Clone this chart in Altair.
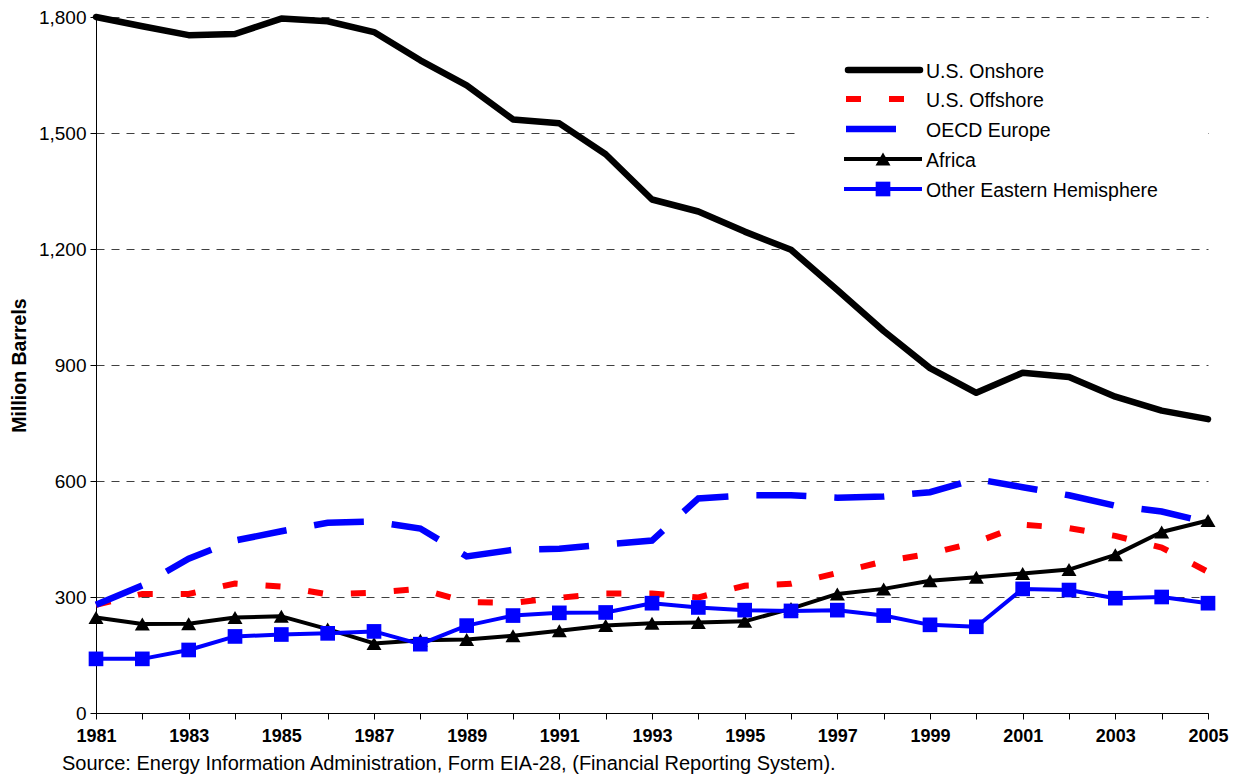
import altair as alt
import pandas as pd

years = list(range(1981, 2006))
series_names = ["U.S. Onshore", "U.S. Offshore", "OECD Europe", "Africa", "Other Eastern Hemisphere"]

us_onshore = [1800, 1776, 1753, 1756, 1796, 1789, 1761, 1688, 1623, 1535, 1525, 1445, 1328, 1297,
              1245, 1198, 1094, 988, 892, 828, 880, 869, 818, 782, 760]
us_offshore = [280, 308, 308, 335, 327, 307, 311, 321, 287, 285, 298, 309, 309, 299,
               329, 334, 362, 392, 412, 442, 487, 478, 458, 428, 365]
oecd_europe = [280, 330, 399, 446, 470, 492, 495, 477, 405, 422, 425, 436, 446, 555,
               563, 563, 557, 560, 571, 605, 584, 563, 536, 521, 493]
africa = [247, 230, 231, 247, 250, 217, 180, 188, 190, 200, 213, 226, 232, 234,
          237, 270, 308, 321, 342, 351, 361, 371, 409, 468, 498]
other_eastern = [140, 140, 163, 198, 203, 206, 211, 178, 226, 252, 259, 260, 284, 273,
                 266, 264, 266, 252, 228, 223, 321, 318, 297, 300, 284]

y_ticks = [0, 300, 600, 900, 1200, 1500, 1800]
source_text = "Source: Energy Information Administration, Form EIA-28, (Financial Reporting System)."

values = {
    "U.S. Onshore": us_onshore,
    "U.S. Offshore": us_offshore,
    "OECD Europe": oecd_europe,
    "Africa": africa,
    "Other Eastern Hemisphere": other_eastern,
}

rows = []
for s in series_names:
    for yr, v in zip(years, values[s]):
        rows.append({"year": yr, "value": v, "series": s})
df = pd.DataFrame(rows)

styles = {
    "U.S. Onshore": dict(color="#000000", strokeWidth=6.5, strokeCap="round", strokeJoin="round"),
    "U.S. Offshore": dict(color="#FF0000", strokeWidth=6, strokeDash=[15, 28], strokeCap="butt"),
    "OECD Europe": dict(color="#0000FF", strokeWidth=6.5, strokeDash=[50, 28], strokeCap="butt"),
    "Africa": dict(color="#000000", strokeWidth=4, strokeJoin="round"),
    "Other Eastern Hemisphere": dict(color="#0000FF", strokeWidth=4, strokeJoin="round"),
}
markers = {
    "Africa": dict(shape="triangle-up", size=225, color="#000000"),
    "Other Eastern Hemisphere": dict(shape="square", size=215, color="#0000FF"),
}

FONT = "Liberation Sans"
W, H = 1112, 696

x_enc = alt.X("year:Q", scale=alt.Scale(domain=[1981, 2005], nice=False, zero=False),
              axis=alt.Axis(values=years, format="d",
                            labelExpr="datum.value % 2 == 1 ? datum.label : ''",
                            labelFont=FONT, labelFontSize=18, labelFontWeight="bold",
                            labelColor="#000", labelPadding=8, labelFlush=False,
                            tickSize=6, tickColor="#000", domainColor="#000",
                            grid=False, title=None))
y_enc = alt.Y("value:Q", scale=alt.Scale(domain=[0, 1800], nice=False),
              axis=alt.Axis(values=y_ticks, format=",.0f", labelFont=FONT, labelFontSize=19,
                            labelColor="#000", labelPadding=4, tickSize=6, tickColor="#000",
                            domainColor="#000", grid=True, gridDash=[8, 7], gridColor="#404040",
                            gridWidth=1, title="Million Barrels", titleFont=FONT,
                            titleFontSize=19.5, titleFontWeight="bold", titleColor="#000",
                            titlePadding=9))

base = alt.Chart(df)
layers = []
# white legend background (covers gridlines)
layers.append(
    alt.Chart(pd.DataFrame({"series": [series_names[0]]})).mark_rect(color="white").encode(
        x=alt.value(701), x2=alt.value(W), y=alt.value(14), y2=alt.value(198))
)
first = True
for s in series_names:
    st = styles[s]
    lay = base.transform_filter(alt.datum.series == s).mark_line(**st).encode(
        x=x_enc if first else alt.X("year:Q"),
        y=y_enc if first else alt.Y("value:Q"),
    )
    first = False
    layers.append(lay)
    if s in markers:
        m = markers[s]
        layers.append(base.transform_filter(alt.datum.series == s).mark_point(
            shape=m["shape"], size=m["size"], filled=True, color=m["color"], opacity=1,
            strokeWidth=0).encode(x="year:Q", y="value:Q"))

# manual legend
leg_rows = [53, 82, 112, 142, 172]
leg_df = pd.DataFrame({"series": series_names})
leg_x = {
    "U.S. Onshore": (752, 824),
    "U.S. Offshore": (750, 808),
    "OECD Europe": (750, 801),
    "Africa": (748, 826),
    "Other Eastern Hemisphere": (748, 826),
}
for s, ry in zip(series_names, leg_rows):
    st = dict(styles[s])
    st.pop("strokeJoin", None)
    color = st.pop("color")
    sub = alt.Chart(leg_df).transform_filter(alt.datum.series == s)
    x1, x2 = leg_x[s]
    layers.append(sub.mark_rule(color=color, **st).encode(
        x=alt.value(x1), x2=alt.value(x2), y=alt.value(ry)))
    if s in markers:
        m = markers[s]
        layers.append(sub.mark_point(shape=m["shape"], size=m["size"], filled=True,
                                     color=m["color"], opacity=1, strokeWidth=0).encode(
            x=alt.value(787), y=alt.value(ry)))
    layers.append(sub.mark_text(align="left", baseline="middle", font=FONT, fontSize=19.5,
                                color="#000").encode(
        x=alt.value(830), y=alt.value(ry + 2), text="series:N"))

chart = alt.layer(*layers).properties(
    width=W, height=H,
    autosize=alt.AutoSizeParams(type="none"),
    padding={"left": 88, "top": 9, "right": 21, "bottom": 63},
    title=alt.TitleParams(source_text, orient="bottom", anchor="start", frame="group",
                          dx=-34, offset=9,
                          font=FONT, fontSize=20, fontWeight="normal", color="#000"),
).configure_view(stroke=None).configure_axis(domainWidth=1, tickWidth=1)

chart.save("out.html", embed_options={"renderer": "svg", "actions": False})
